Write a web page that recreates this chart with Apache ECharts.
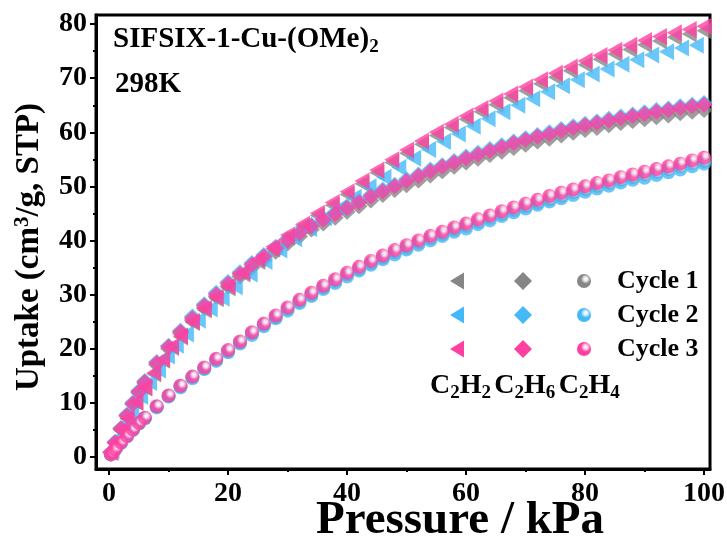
<!DOCTYPE html>
<html>
<head>
<meta charset="utf-8">
<script src="https://cdn.jsdelivr.net/npm/echarts@6/dist/echarts.min.js"></script>
<style>
  html, body { margin: 0; padding: 0; background: #fff; }
  #chart { width: 727px; height: 537px; }
</style>
</head>
<body>
<div id="chart"></div>
<script>
// Pressure points (kPa)
const pressureTri = [0.3,1,2,3,4.5,6,7.5,9,10.5,12,14,16,18,20,22.5,25,27.5,30,32.5,35,37.5,40,42.5,45,47.5,50,52.5,55,57.5,60,62.5,65,67.5,70,72.5,75,77.5,80,82.5,85,87.5,90,92.5,95,97.5,100];
const pressureTriCycle2 = [0.5,1.5,2.6,3.8,5.3,6.8,8.3,9.8,11.3,13,15,17,19,21.2,23.7,26.2,28.7,31.2,33.7,36.2,38.7,41.2,43.7,46.2,48.7,51.2,53.7,56.2,58.7,61.2,63.7,66.2,68.7,71.2,73.7,76.2,78.7,81.2,83.7,86.2,88.7,91.2,93.7,96.2,98.7];
const pressureGrid = [0.3,1,2,3,4,5,6,8,10,12,14,16,18,20,22,24,26,28,30,32,34,36,38,40,42,44,46,48,50,52,54,56,58,60,62,64,66,68,70,72,74,76,78,80,82,84,86,88,90,92,94,96,98,100];

// C2H2 uptake (cm3/g, STP)
const c2h2Cycle1 = [0.8,2.5,4.8,7.0,10.0,12.7,15.3,17.8,20.2,22.1,24.8,27.1,29.2,31.2,33.8,36.1,38.4,40.6,42.6,44.6,46.5,48.5,50.5,52.5,54.4,56.1,57.8,59.4,60.9,62.4,63.8,65.1,66.4,67.7,69.0,70.2,71.4,72.5,73.5,74.5,75.3,76.2,76.9,77.6,78.2,78.8];
const c2h2Cycle2 = [1.2,3.5,6.0,8.3,11.1,13.7,16.0,18.6,20.6,22.7,25.2,27.3,29.3,31.4,33.8,36.1,38.2,40.3,42.2,44.2,46.0,48.0,49.9,51.7,53.5,55.2,56.8,58.3,59.7,61.1,62.5,63.8,65.0,66.2,67.5,68.6,69.7,70.8,71.7,72.6,73.4,74.3,74.9,75.6,76.1];
const c2h2Cycle3 = [0.8,2.5,4.9,7.1,10.1,12.8,15.5,18.0,20.4,22.3,25.0,27.4,29.5,31.5,34.1,36.5,38.8,41.0,43.0,45.0,47.0,49.0,51.0,53.0,54.9,56.7,58.4,60.0,61.5,63.0,64.4,65.8,67.1,68.4,69.7,70.9,72.1,73.2,74.2,75.2,76.1,77.0,77.7,78.4,79.0,79.6];

// C2H6 uptake
const c2h6Cycle1 = [0.8,2.6,5.1,7.5,9.7,11.8,13.6,17.0,20.0,22.8,25.2,27.5,29.6,31.5,33.3,35.0,36.4,37.9,39.4,40.7,42.0,43.1,44.2,45.3,46.3,47.4,48.4,49.3,50.2,51.1,52.0,52.8,53.6,54.4,55.1,55.8,56.4,57.1,57.7,58.3,58.8,59.4,59.9,60.4,60.8,61.3,61.7,62.1,62.4,62.8,63.1,63.5,63.8,64.1];
const c2h6Cycle2 = [0.8,2.7,5.3,7.8,10.0,12.2,14.0,17.5,20.5,23.3,25.9,28.2,30.3,32.3,34.1,35.8,37.3,38.8,40.3,41.6,42.9,44.1,45.2,46.3,47.3,48.4,49.4,50.3,51.3,52.2,53.1,53.9,54.7,55.5,56.2,56.9,57.6,58.3,58.9,59.5,60.0,60.6,61.1,61.6,62.0,62.5,62.9,63.3,63.7,64.1,64.4,64.8,65.1,65.4];
const c2h6Cycle3 = [0.8,2.6,5.2,7.6,9.8,12.0,13.8,17.3,20.3,23.1,25.6,27.9,30.0,32.0,33.8,35.5,37.0,38.5,40.0,41.3,42.6,43.8,44.9,46.0,47.0,48.1,49.1,50.0,51.0,51.9,52.8,53.6,54.4,55.2,55.9,56.6,57.3,58.0,58.6,59.2,59.7,60.3,60.8,61.3,61.7,62.2,62.6,63.0,63.4,63.8,64.1,64.5,64.8,65.1];

// C2H4 uptake
const c2h4Cycle1 = [0.4,1.3,2.6,3.8,5.0,6.1,7.1,9.2,11.2,13.0,14.7,16.3,17.9,19.5,21.1,22.8,24.4,25.8,27.3,28.7,30.0,31.3,32.5,33.7,34.7,35.8,36.8,37.8,38.7,39.6,40.4,41.2,42.0,42.7,43.5,44.2,44.9,45.6,46.3,47.0,47.6,48.2,48.9,49.5,50.1,50.6,51.2,51.7,52.2,52.7,53.2,53.7,54.3,54.7];
const c2h4Cycle2 = [0.4,1.3,2.5,3.7,4.9,6.1,7.1,9.1,11.1,12.8,14.5,16.2,17.7,19.3,20.9,22.5,24.1,25.6,27.0,28.4,29.7,31.0,32.1,33.3,34.4,35.5,36.5,37.4,38.3,39.2,40.0,40.8,41.6,42.2,43.0,43.7,44.5,45.2,45.9,46.6,47.2,47.8,48.4,49.0,49.6,50.1,50.7,51.2,51.6,52.1,52.6,53.1,53.7,54.2];
const c2h4Cycle3 = [0.4,1.3,2.6,3.8,5.0,6.2,7.2,9.3,11.3,13.1,14.8,16.5,18.1,19.7,21.3,23.0,24.6,26.1,27.6,29.0,30.3,31.6,32.8,34.0,35.1,36.2,37.2,38.2,39.1,40.0,40.8,41.6,42.4,43.1,43.9,44.6,45.4,46.1,46.8,47.5,48.2,48.8,49.4,50.0,50.6,51.1,51.7,52.2,52.7,53.2,53.7,54.2,54.8,55.3];

// Axis ticks
const xTicks = [0, 20, 40, 60, 80, 100];
const xMinorTicks = [10, 30, 50, 70, 90];
const yTicks = [0, 10, 20, 30, 40, 50, 60, 70, 80];
const yMinorTicks = [5, 15, 25, 35, 45, 55, 65, 75];

const cycleNames = ['Cycle 1', 'Cycle 2', 'Cycle 3'];
const cycleColors = ['#868686', '#45B9F8', '#FF40A0'];
const cycleHighlights = ['#eeeeee', '#dff3ff', '#ffdcee'];

const serif = 'Liberation Serif, Times New Roman, serif';

function ball(i) {
  return new echarts.graphic.RadialGradient(0.62, 0.36, 0.62, [
    { offset: 0, color: '#ffffff' },
    { offset: 0.22, color: cycleHighlights[i] },
    { offset: 0.55, color: cycleColors[i] },
    { offset: 1, color: cycleColors[i] }
  ]);
}

function pairs(px, py) {
  return py.map((v, i) => [px[i], v]);
}

const triData = [
  pairs(pressureTri, c2h2Cycle1),
  pairs(pressureTriCycle2, c2h2Cycle2),
  pairs(pressureTri, c2h2Cycle3)
];
const diaData = [
  pairs(pressureGrid, c2h6Cycle1),
  pairs(pressureGrid, c2h6Cycle2),
  pairs(pressureGrid, c2h6Cycle3)
];
const ballData = [
  pairs(pressureGrid, c2h4Cycle1),
  pairs(pressureGrid, c2h4Cycle2),
  pairs(pressureGrid, c2h4Cycle3)
];

const series = [];
for (let i = 0; i < 3; i++) {
  series.push({
    type: 'scatter', name: 'C2H2 ' + cycleNames[i], data: triData[i],
    symbol: 'triangle', symbolRotate: 90, symbolSize: [17, 15],
    itemStyle: { color: cycleColors[i] }, silent: true
  });
  series.push({
    type: 'scatter', name: 'C2H6 ' + cycleNames[i], data: diaData[i],
    symbol: 'diamond', symbolSize: [17, 16],
    itemStyle: { color: cycleColors[i] }, silent: true
  });
  series.push({
    type: 'scatter', name: 'C2H4 ' + cycleNames[i], data: ballData[i],
    symbol: 'circle', symbolSize: 14,
    itemStyle: { color: ball(i) }, silent: true
  });
}

// Key: symbols per cycle row and gas column
const keyRowsY = [281, 315, 349];
const keyColsX = [457, 523, 584];
const keyGraphics = [];
keyRowsY.forEach((y, i) => {
  const x0 = keyColsX[0];
  keyGraphics.push({
    type: 'polygon',
    shape: { points: [[x0 - 7, y], [x0 + 7, y - 8.5], [x0 + 7, y + 8.5]] },
    style: { fill: cycleColors[i] }
  });
  const x1 = keyColsX[1];
  keyGraphics.push({
    type: 'polygon',
    shape: { points: [[x1, y - 9], [x1 + 9, y], [x1, y + 9], [x1 - 9, y]] },
    style: { fill: cycleColors[i] }
  });
  keyGraphics.push({
    type: 'circle',
    shape: { cx: keyColsX[2], cy: y, r: 7 },
    style: { fill: ball(i) }
  });
  keyGraphics.push({
    type: 'text', x: 617, y: y,
    style: {
      text: cycleNames[i], fill: '#000', font: 'bold 26px ' + serif,
      align: 'left', verticalAlign: 'middle'
    }
  });
});

const subRich = {
  a: { fontSize: 28, fontWeight: 'bold', fontFamily: serif, fill: '#000', lineHeight: 34 },
  s: { fontSize: 19, fontWeight: 'bold', fontFamily: serif, fill: '#000', lineHeight: 20, padding: [14, 0, 0, 0] }
};

keyGraphics.push({
  type: 'text', x: 430, y: 386,
  style: {
    text: '{a|C}{s|2}{a|H}{s|2} {a|C}{s|2}{a|H}{s|6} {a|C}{s|2}{a|H}{s|4}',
    rich: subRich, align: 'left', verticalAlign: 'middle'
  }
});

keyGraphics.push({
  type: 'text', x: 113, y: 40,
  style: {
    text: '{a|SIFSIX-1-Cu-(OMe)}{s|2}',
    rich: {
      a: { fontSize: 29, fontWeight: 'bold', fontFamily: serif, fill: '#000', lineHeight: 34 },
      s: { fontSize: 19, fontWeight: 'bold', fontFamily: serif, fill: '#000', lineHeight: 20, padding: [15, 0, 0, 0] }
    },
    align: 'left', verticalAlign: 'middle'
  }
});
keyGraphics.push({
  type: 'text', x: 115, y: 85,
  style: {
    text: '298K', fill: '#000', font: 'bold 29px ' + serif,
    align: 'left', verticalAlign: 'middle'
  }
});

// x-axis title
keyGraphics.push({
  type: 'text', x: 460, y: 521,
  style: {
    text: 'Pressure / kPa', fill: '#000', font: 'bold 47px ' + serif,
    align: 'center', verticalAlign: 'middle'
  }
});

const axisLabelStyle = {
  fontSize: 28, fontWeight: 'bold', fontFamily: serif, color: '#000'
};

const option = {
  animation: false,
  backgroundColor: '#fff',
  grid: {
    left: 96, right: 17, top: 15, bottom: 68,
    outerBoundsMode: 'none', containLabel: false,
    show: true, borderColor: '#000', borderWidth: 3, backgroundColor: 'transparent'
  },
  xAxis: [{
    type: 'value', min: -2.2, max: 101, position: 'bottom',
    axisLine: { show: true, onZero: false, lineStyle: { color: '#000', width: 3 } },
    axisTick: { show: true, length: 6, customValues: xTicks, lineStyle: { color: '#000', width: 2 } },
    axisLabel: Object.assign({ customValues: xTicks, margin: 11 }, axisLabelStyle),
    splitLine: { show: false }
  }, {
    type: 'value', min: -2.2, max: 101, position: 'bottom',
    axisLine: { show: false, onZero: false },
    axisTick: { show: true, length: 3, customValues: xMinorTicks, lineStyle: { color: '#000', width: 2 } },
    axisLabel: { show: false },
    splitLine: { show: false }
  }],
  yAxis: [{
    type: 'value', min: -2.3, max: 81.7, position: 'left',
    axisLine: { show: true, onZero: false, lineStyle: { color: '#000', width: 3 } },
    axisTick: { show: true, length: 6, customValues: yTicks, lineStyle: { color: '#000', width: 2 } },
    axisLabel: Object.assign({ customValues: yTicks, margin: 9 }, axisLabelStyle),
    splitLine: { show: false },
    name: 'Uptake (cm{sup|3}/g, STP)', nameLocation: 'middle', nameGap: 47, nameRotate: 90,
    nameTextStyle: {
      fontSize: 33, fontWeight: 'bold', fontFamily: serif, color: '#000', lineHeight: 38,
      padding: [0, 10, 0, 0],
      rich: {
        sup: { fontSize: 21, fontWeight: 'bold', fontFamily: serif, color: '#000', lineHeight: 22, padding: [0, 0, 14, 0] }
      }
    }
  }, {
    type: 'value', min: -2.3, max: 81.7, position: 'left',
    axisLine: { show: false, onZero: false },
    axisTick: { show: true, length: 3, customValues: yMinorTicks, lineStyle: { color: '#000', width: 2 } },
    axisLabel: { show: false },
    splitLine: { show: false }
  }],
  graphic: keyGraphics,
  series: series
};

const chart = echarts.init(document.getElementById('chart'), null, { renderer: 'canvas' });
chart.setOption(option);
</script>
</body>
</html>
